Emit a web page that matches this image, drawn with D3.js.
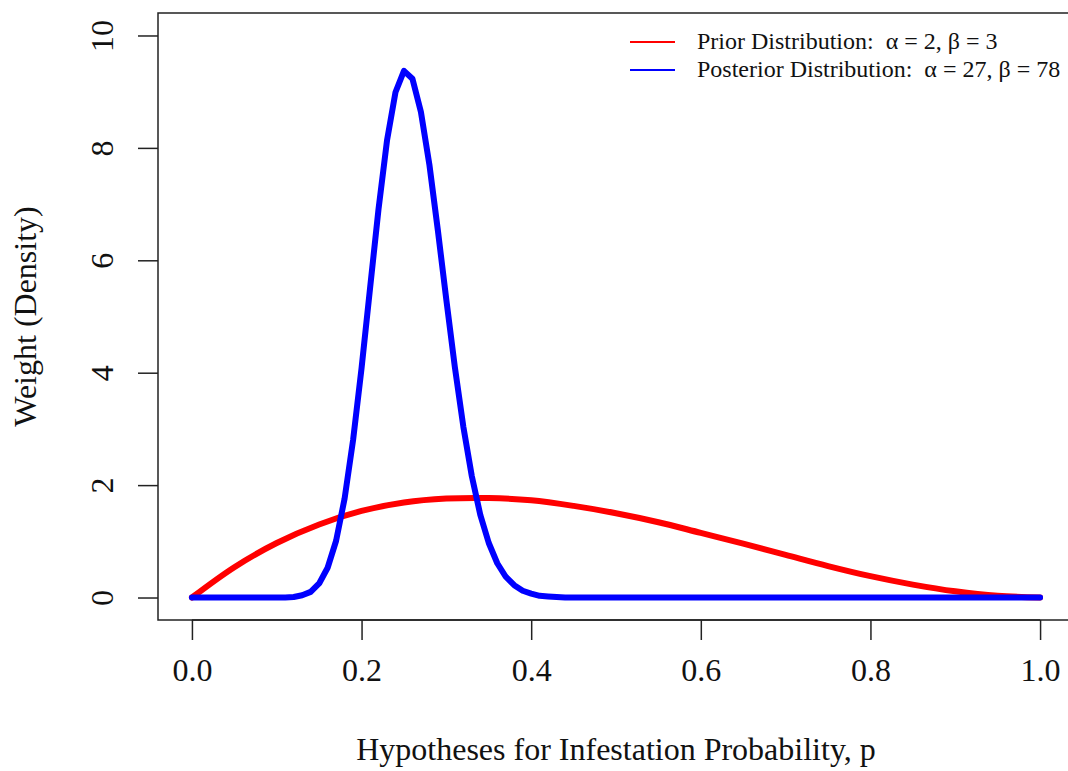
<!DOCTYPE html>
<html>
<head>
<meta charset="utf-8">
<script src="https://cdn.jsdelivr.net/npm/d3@7"></script>
<style>
  body { margin: 0; background: #fff; }
  svg { display: block; font-family: "Liberation Serif", "Times New Roman", serif; }
</style>
</head>
<body>
<svg></svg>
<script>
// prior Beta(2, 3)
const priorP = [0, 0.05, 0.1, 0.15, 0.2, 0.25, 0.3, 0.35, 0.4, 0.45, 0.5,
  0.55, 0.6, 0.65, 0.7, 0.75, 0.8, 0.85, 0.9, 0.95, 1];
const priorDensity = [0, 0.54, 0.97, 1.3, 1.54, 1.69, 1.76, 1.77, 1.73, 1.63, 1.5,
  1.34, 1.15, 0.96, 0.76, 0.56, 0.38, 0.23, 0.11, 0.03, 0];

// posterior Beta(27, 78)
const posteriorP = [0, 0.05, 0.1, 0.11, 0.12, 0.13, 0.14, 0.15, 0.16, 0.17, 0.18,
  0.19, 0.2, 0.21, 0.22, 0.23, 0.24, 0.25, 0.26, 0.27, 0.28, 0.29, 0.3, 0.31,
  0.32, 0.33, 0.34, 0.35, 0.36, 0.37, 0.38, 0.39, 0.4, 0.41, 0.42, 0.43, 0.44,
  0.45, 0.5, 0.6, 0.7, 0.8, 0.9, 1];
const posteriorDensity = [0, 0, 0, 0, 0.01, 0.04, 0.1, 0.25, 0.53, 1.01, 1.76,
  2.8, 4.08, 5.5, 6.91, 8.13, 8.99, 9.37, 9.23, 8.64, 7.7, 6.53, 5.29, 4.1,
  3.04, 2.16, 1.47, 0.97, 0.61, 0.37, 0.22, 0.12, 0.07, 0.03, 0.02, 0.01, 0,
  0, 0, 0, 0, 0, 0, 0];

const xTicks = [0, 0.2, 0.4, 0.6, 0.8, 1];
const yTicks = [0, 2, 4, 6, 8, 10];

const legendLabels = [
  "Prior Distribution:  \u03b1 = 2, \u03b2 = 3",
  "Posterior Distribution:  \u03b1 = 27, \u03b2 = 78"
];
const colors = ["#ff0000", "#0000ff"];

const width = 1068,
  height = 771;
const box = { left: 158, right: 1074, top: 13, bottom: 620 };

const svg = d3.select("svg").attr("width", width).attr("height", height);

// R style: domain padded 4% each side
const x_scale = d3.scaleLinear().domain([-0.04, 1.04]).range([box.left, box.right]);
const y_scale = d3.scaleLinear().domain([-0.4, 10.4]).range([box.bottom, box.top]);

// plot box
svg
  .append("rect")
  .attr("x", box.left)
  .attr("y", box.top)
  .attr("width", box.right - box.left)
  .attr("height", box.bottom - box.top)
  .attr("fill", "none")
  .attr("stroke", "#222")
  .attr("stroke-width", 1.5);

const x_axis = d3.axisBottom(x_scale)
  .tickValues(xTicks)
  .tickSize(20)
  .tickPadding(18)
  .tickFormat(d3.format(".1f"));

const y_axis = d3.axisLeft(y_scale)
  .tickValues(yTicks)
  .tickSize(20)
  .tickPadding(24);

const gx = svg
  .append("g")
  .attr("transform", `translate(0,${box.bottom})`)
  .call(x_axis);

const gy = svg
  .append("g")
  .attr("transform", `translate(${box.left},0)`)
  .call(y_axis);

[gx, gy].forEach((g) => {
  g.select(".domain").remove();
  g.selectAll(".tick line").attr("stroke", "#222").attr("stroke-width", 1.5);
  g.selectAll(".tick text")
    .attr("fill", "#111")
    .style("font-size", "32px")
    .style("font-family", "Liberation Serif, serif");
});

// x axis line only spans the ticks, like R
svg
  .append("line")
  .attr("x1", x_scale(0))
  .attr("x2", x_scale(1))
  .attr("y1", box.bottom)
  .attr("y2", box.bottom)
  .attr("stroke", "#222")
  .attr("stroke-width", 1.5);

// rotate y tick labels
gy.selectAll(".tick text")
  .attr("x", null)
  .attr("dy", null)
  .attr("text-anchor", "middle")
  .attr("transform", "translate(-45,0) rotate(-90)");

// axis titles
svg
  .append("text")
  .attr("x", (box.left + box.right) / 2)
  .attr("y", 760)
  .attr("text-anchor", "middle")
  .attr("fill", "#111")
  .style("font-size", "32px")
  .text("Hypotheses for Infestation Probability, p");

svg
  .append("text")
  .attr("text-anchor", "middle")
  .attr("transform", `translate(36,${(box.top + box.bottom) / 2}) rotate(-90)`)
  .attr("fill", "#111")
  .style("font-size", "32px")
  .text("Weight (Density)");

const line_generator = d3
  .line()
  .x((d) => x_scale(d[0]))
  .y((d) => y_scale(d[1]));

const priorPts = priorP.map((p, i) => [p, priorDensity[i]]);
const postPts = posteriorP.map((p, i) => [p, posteriorDensity[i]]);

svg
  .append("path")
  .attr("fill", "none")
  .attr("stroke", colors[0])
  .attr("stroke-width", 6)
  .attr("stroke-linecap", "round")
  .attr("stroke-linejoin", "round")
  .attr("d", line_generator.curve(d3.curveCatmullRom)(priorPts));

svg
  .append("path")
  .attr("fill", "none")
  .attr("stroke", colors[1])
  .attr("stroke-width", 6)
  .attr("stroke-linecap", "round")
  .attr("stroke-linejoin", "round")
  .attr("d", line_generator.curve(d3.curveLinear)(postPts));

// legend
const legend = svg.append("g").attr("transform", "translate(630,42)");

legendLabels.forEach((label, i) => {
  const row = legend.append("g").attr("transform", `translate(0,${i * 28})`);
  row
    .append("line")
    .attr("x1", 0)
    .attr("x2", 45)
    .attr("stroke", colors[i])
    .attr("stroke-width", 2);
  row
    .append("text")
    .attr("x", 67)
    .attr("y", 7)
    .attr("fill", "#111")
    .style("font-size", "24px")
    .style("white-space", "pre")
    .text(label);
});
</script>
</body>
</html>
